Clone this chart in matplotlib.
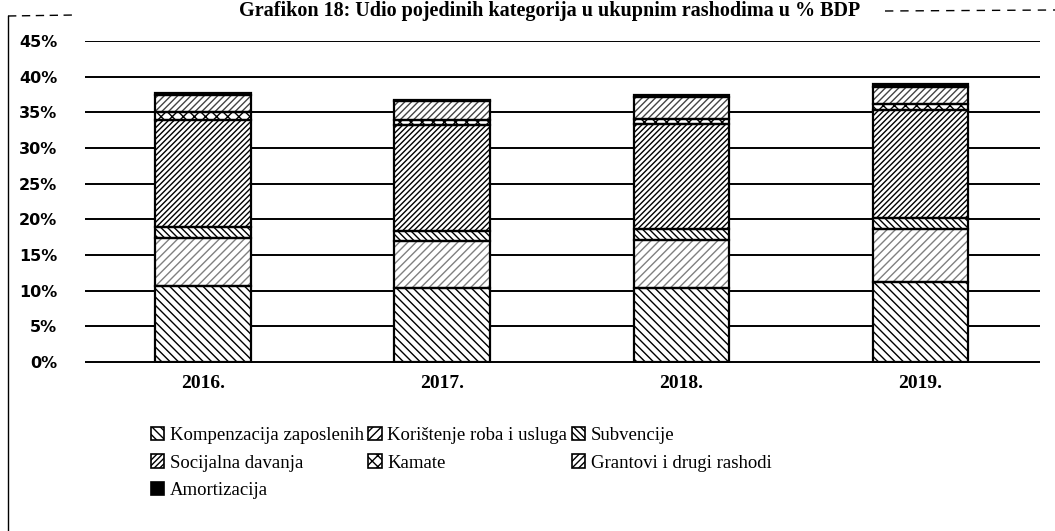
import matplotlib
matplotlib.use("Agg")
import matplotlib.pyplot as plt
import numpy as np
from matplotlib.lines import Line2D

years = ["2016.", "2017.", "2018.", "2019."]
series_names = ["Kompenzacija zaposlenih", "Korištenje roba i usluga", "Subvencije",
                "Socijalna davanja", "Kamate", "Grantovi i drugi rashodi", "Amortizacija"]
kompenzacija = [10.7, 10.3, 10.3, 11.2]
koristenje = [6.7, 6.6, 6.8, 7.4]
subvencije = [1.5, 1.5, 1.6, 1.6]
socijalna = [15.1, 14.9, 14.7, 15.2]
kamate = [1.1, 0.7, 0.7, 0.8]
grantovi = [2.3, 2.6, 3.1, 2.4]
amortizacija = [0.3, 0.2, 0.3, 0.4]
yticks = [0, 5, 10, 15, 20, 25, 30, 35, 40, 45]
title = "Grafikon 18: Udio pojedinih kategorija u ukupnim rashodima u % BDP"

series = [kompenzacija, koristenje, subvencije, socijalna, kamate, grantovi, amortizacija]
styles = [
    dict(hatch="\\\\\\\\", hc="black", fc="white"),
    dict(hatch="////", hc="#808080", fc="white"),
    dict(hatch="\\\\\\\\\\", hc="black", fc="white"),
    dict(hatch="//////", hc="black", fc="white"),
    dict(hatch="xxx", hc="black", fc="white"),
    dict(hatch="/////", hc="#444444", fc="white"),
    dict(hatch=None, hc="black", fc="black"),
]

plt.rcParams["hatch.linewidth"] = 1.0
fig = plt.figure(figsize=(10.55, 5.31), dpi=100)
ax = fig.add_axes([85/1055, 1-362.5/531, (1040-85)/1055, (362.5-40.5)/531])

x = np.arange(len(years))
width = 0.40
bottom = np.zeros(len(years))
handles = []
for name, vals, st in zip(series_names, series, styles):
    vals = np.array(vals)
    ax.bar(x, vals, width, bottom=bottom, color=st["fc"], edgecolor=st["hc"],
           hatch=st["hatch"], linewidth=0, zorder=2)
    ax.bar(x, vals, width, bottom=bottom, fill=False, edgecolor="black",
           linewidth=1.6, zorder=3)
    bottom += vals
    h = matplotlib.patches.Patch(facecolor=st["fc"], edgecolor="black",
                                 hatch=st["hatch"], linewidth=1.2, label=name)
    handles.append(h)

ax.set_xlim(-0.494, 3.5)
ax.set_ylim(-0.1, 45.1)
ax.set_yticks(yticks)
ax.set_yticklabels([f"{v}%" for v in yticks], fontfamily="DejaVu Sans",
                   fontweight="bold", fontsize=11.5)
ax.set_xticks(x)
ax.set_xticklabels(years, fontfamily="Liberation Serif", fontweight="bold", fontsize=14)
ax.tick_params(axis="y", length=0, pad=20)
ax.tick_params(axis="x", length=0, pad=9)
ax.yaxis.grid(True, color="black", linewidth=1.4, zorder=0)
ax.set_axisbelow(True)
for s in ax.spines.values():
    s.set_visible(False)

order = [0, 3, 6, 1, 4, 2, 5]
leg = fig.legend([handles[i] for i in order], [series_names[i] for i in order],
                 ncol=3, loc="upper left", bbox_to_anchor=(151/1055, 1-427/531),
                 frameon=False, prop={"family": "Liberation Serif", "size": 13.5},
                 handlelength=0.7, handleheight=0.7, handletextpad=0.3,
                 columnspacing=0.25, labelspacing=0.55, borderpad=0, borderaxespad=0)

fig.text(550/1055, 1-1/531, title, ha="center", va="top",
         fontfamily="Liberation Serif", fontweight="bold", fontsize=14.5)

# frame fragments
fig.add_artist(Line2D([8/1055, 8/1055], [0, 1-16/531], transform=fig.transFigure,
                      color="black", linewidth=1.0))
fig.add_artist(Line2D([8/1055, 75/1055], [1-16/531, 1-15/531], transform=fig.transFigure,
                      color="black", linewidth=1.0, linestyle=(0, (6, 4))))
fig.add_artist(Line2D([885/1055, 1], [1-11/531, 1-10/531], transform=fig.transFigure,
                      color="black", linewidth=1.0, linestyle=(0, (6, 5))))

fig.savefig("out.png", dpi=100, facecolor="white")
